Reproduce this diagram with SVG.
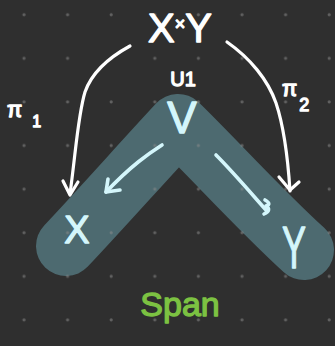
<svg xmlns="http://www.w3.org/2000/svg" width="335" height="346" viewBox="0 0 335 346">
  <style>
    .hand { font-family: "Liberation Sans", "DejaVu Sans", sans-serif; stroke-width: 1.3; stroke-linejoin: round; }
    .white { fill: #ffffff; stroke: #ffffff; }
    .blue { fill: #d4f6fb; stroke: #d4f6fb; }
    .green { fill: #7cc242; stroke: #7cc242; }
    .wline { fill: none; stroke: #ffffff; stroke-width: 3.2; stroke-linecap: round; stroke-linejoin: round; }
    .bline { fill: none; stroke: #d4f6fb; stroke-width: 3.6; stroke-linecap: round; stroke-linejoin: round; }
  </style>
  <defs>
    <pattern id="dots" patternUnits="userSpaceOnUse" x="0" y="0" width="43.6" height="43.6">
      <circle cx="24" cy="14.7" r="1.6" fill="#8a8a8a" fill-opacity="0.55"/>
    </pattern>
  </defs>
  <rect width="335" height="346" fill="#2f2f2f"/>
  <g id="span-band">
    <path d="M66,246 C100,210 140,165 178,124 C215,160 260,210 304,250" fill="none" stroke="#4d6a70" stroke-width="60" stroke-linecap="round" stroke-linejoin="round"/>
  </g>
  <rect width="335" height="346" fill="url(#dots)"/>
  <g id="connectors">
    <path class="wline" d="M130,46 C108,58 92,72 85,92 C78,115 76,150 70,194"/>
    <path class="wline" d="M63,181 L70,195 L78,182"/>
    <path class="wline" d="M227,42 C250,58 268,80 276,103 C285,130 288,160 290,191"/>
    <path class="wline" d="M279,177 L290,190 L299,182"/>
    <path class="bline" d="M162,145 C148,154 132,165 106,192"/>
    <path class="bline" d="M108,179 L106,192 L120,190"/>
    <path class="bline" d="M216,155 C233,172 250,192 266,210"/>
    <path class="bline" d="M265,200 Q272,204 266,206 Q272,210 264,214"/>
  </g>
  <g id="node-XxY">
    <text class="hand white" x="180" y="42" font-size="40" text-anchor="middle">X<tspan font-size="18" dy="-12">×</tspan><tspan dy="12">Y</tspan></text>
  </g>
  <g id="label-U1">
    <text class="hand white" x="183" y="86" font-size="20" text-anchor="middle">U1</text>
  </g>
  <g id="label-pi1">
    <text class="hand white" x="7" y="117" font-size="22">π<tspan font-size="16" dx="10" dy="10">1</tspan></text>
  </g>
  <g id="label-pi2">
    <text class="hand white" x="282" y="96" font-size="22">π<tspan font-size="18" dx="2" dy="15">2</tspan></text>
  </g>
  <g id="node-V">
    <text class="hand blue" x="182" y="133" font-size="44" text-anchor="middle">V</text>
  </g>
  <g id="node-X">
    <text class="hand blue" x="77" y="243" font-size="38" text-anchor="middle">X</text>
  </g>
  <g id="node-Y">
    <text class="hand blue" transform="translate(294,268) scale(0.6,1)" x="0" y="0" font-size="60" text-anchor="middle">Y</text>
  </g>
  <g id="label-span">
    <text class="hand green" x="180" y="316" font-size="34" text-anchor="middle">Span</text>
  </g>
</svg>
